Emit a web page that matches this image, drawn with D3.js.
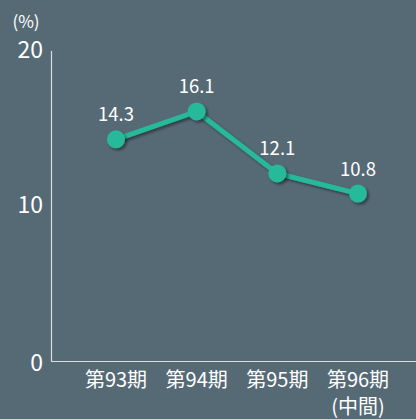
<!DOCTYPE html>
<html>
<head>
<meta charset="utf-8">
<script src="https://cdn.jsdelivr.net/npm/d3@7"></script>
<style>
  html, body { margin: 0; padding: 0; background: #566a76; }
  svg { display: block; font-family: "Noto Sans CJK JP", "Noto Sans", sans-serif; }
</style>
</head>
<body>
<div id="chart"></div>
<script>
var periods = ["第93期", "第94期", "第95期", "第96期"];
var subLabels = ["", "", "", "(中間)"];
var values = [14.3, 16.1, 12.1, 10.8];
var yTicks = [0, 10, 20];

var width = 416, height = 419;
var svg = d3.select("#chart").append("svg")
  .attr("width", width)
  .attr("height", height);

svg.append("rect").attr("width", width).attr("height", height).attr("fill", "#566a76");

var defs = svg.append("defs");
var f = defs.append("filter").attr("id", "shadow").attr("x", "-50%").attr("y", "-50%").attr("width", "200%").attr("height", "200%");
f.append("feDropShadow").attr("dx", 2).attr("dy", 2).attr("stdDeviation", 1.5)
  .attr("flood-color", "#000").attr("flood-opacity", 0.45);

var y = d3.scaleLinear().domain([0, 20]).range([361, 51]);
var x = d3.scalePoint().domain(periods).range([116, 358]);

// axes
svg.append("line").attr("x1", 51.5).attr("x2", 51.5).attr("y1", y(20)).attr("y2", y(0) + 1)
  .attr("stroke", "#d8dde0").attr("stroke-width", 1.2);
svg.append("line").attr("x1", 51).attr("x2", width).attr("y1", y(0) + 0.5).attr("y2", y(0) + 0.5)
  .attr("stroke", "#d8dde0").attr("stroke-width", 1.2);

svg.selectAll(".ytick").data(yTicks).enter().append("text")
  .attr("class", "ytick")
  .attr("x", 43)
  .attr("y", function(d){ return y(d) + (d === 0 ? 4 : 1); })
  .attr("text-anchor", "end")
  .attr("dominant-baseline", "middle")
  .attr("fill", "#fff")
  .attr("font-size", 23)
  .text(function(d){ return d; });

svg.append("text").attr("x", 26).attr("y", 23)
  .attr("text-anchor", "middle").attr("dominant-baseline", "middle")
  .attr("fill", "#fff").attr("font-size", 17).text("(%)");

svg.selectAll(".xlab").data(periods).enter().append("text")
  .attr("class", "xlab")
  .attr("x", function(d){ return x(d); })
  .attr("y", 382)
  .attr("text-anchor", "middle").attr("dominant-baseline", "middle")
  .attr("fill", "#fff").attr("font-size", 20)
  .text(function(d){ return d; });

svg.selectAll(".xsub").data(periods).enter().append("text")
  .attr("class", "xsub")
  .attr("x", function(d){ return x(d); })
  .attr("y", 409)
  .attr("text-anchor", "middle").attr("dominant-baseline", "middle")
  .attr("fill", "#fff").attr("font-size", 20)
  .text(function(d, i){ return subLabels[i]; });

var line = d3.line()
  .x(function(d, i){ return x(periods[i]); })
  .y(function(d){ return y(d); });

svg.append("path").datum(values)
  .attr("d", line)
  .attr("fill", "none")
  .attr("stroke", "#26b99a")
  .attr("stroke-width", 5)
  .attr("filter", "url(#shadow)");

svg.selectAll(".dot").data(values).enter().append("circle")
  .attr("class", "dot")
  .attr("cx", function(d, i){ return x(periods[i]); })
  .attr("cy", function(d){ return y(d); })
  .attr("r", 9)
  .attr("fill", "#26b99a")
  .attr("filter", "url(#shadow)");

svg.selectAll(".val").data(values).enter().append("text")
  .attr("class", "val")
  .attr("x", function(d, i){ return x(periods[i]); })
  .attr("y", function(d){ return y(d) - 23; })
  .attr("text-anchor", "middle").attr("dominant-baseline", "middle")
  .attr("fill", "#fff").attr("font-size", 18.5)
  .text(function(d){ return d.toFixed(1); });
</script>
</body>
</html>
